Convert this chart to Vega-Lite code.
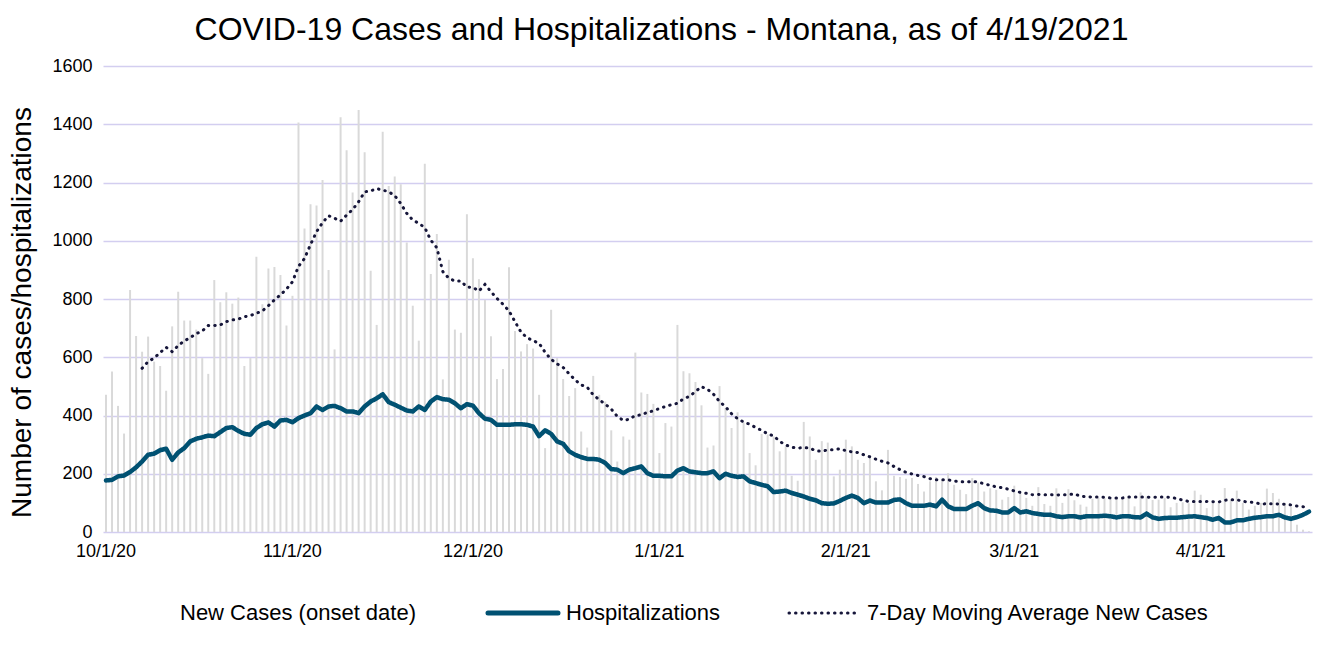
{
  "$schema": "https://vega.github.io/schema/vega-lite/v6.json",
  "autosize": {"type": "none"},
  "width": 1209,
  "height": 466,
  "padding": {"left": 103, "top": 66, "right": 10, "bottom": 124},
  "background": "white",
  "title": {
    "text": "COVID-19 Cases and Hospitalizations - Montana, as of 4/19/2021",
    "font": "Liberation Sans",
    "fontSize": 32,
    "fontWeight": "normal",
    "color": "#000000",
    "anchor": "middle",
    "dx": -46,
    "dy": 32,
    "baseline": "alphabetic",
    "offset": 17
  },
  "data": {
    "values": [
      {"date":"10/1/20","cases":471,"hosp":177,"ma":null},
      {"date":"10/2/20","cases":551,"hosp":179,"ma":null},
      {"date":"10/3/20","cases":433,"hosp":191,"ma":null},
      {"date":"10/4/20","cases":338,"hosp":194,"ma":null},
      {"date":"10/5/20","cases":831,"hosp":206,"ma":null},
      {"date":"10/6/20","cases":673,"hosp":222,"ma":null},
      {"date":"10/7/20","cases":619,"hosp":242,"ma":562},
      {"date":"10/8/20","cases":671,"hosp":265,"ma":585},
      {"date":"10/9/20","cases":585,"hosp":269,"ma":597},
      {"date":"10/10/20","cases":570,"hosp":281,"ma":616},
      {"date":"10/11/20","cases":485,"hosp":286,"ma":634},
      {"date":"10/12/20","cases":706,"hosp":248,"ma":619},
      {"date":"10/13/20","cases":825,"hosp":273,"ma":640},
      {"date":"10/14/20","cases":726,"hosp":288,"ma":656},
      {"date":"10/15/20","cases":726,"hosp":311,"ma":667},
      {"date":"10/16/20","cases":695,"hosp":320,"ma":681},
      {"date":"10/17/20","cases":597,"hosp":325,"ma":690},
      {"date":"10/18/20","cases":543,"hosp":331,"ma":709},
      {"date":"10/19/20","cases":865,"hosp":329,"ma":709},
      {"date":"10/20/20","cases":789,"hosp":343,"ma":711},
      {"date":"10/21/20","cases":823,"hosp":357,"ma":722},
      {"date":"10/22/20","cases":784,"hosp":360,"ma":728},
      {"date":"10/23/20","cases":805,"hosp":347,"ma":731},
      {"date":"10/24/20","cases":570,"hosp":337,"ma":739},
      {"date":"10/25/20","cases":597,"hosp":334,"ma":743},
      {"date":"10/26/20","cases":945,"hosp":357,"ma":751},
      {"date":"10/27/20","cases":782,"hosp":370,"ma":759},
      {"date":"10/28/20","cases":905,"hosp":376,"ma":777},
      {"date":"10/29/20","cases":910,"hosp":362,"ma":797},
      {"date":"10/30/20","cases":882,"hosp":383,"ma":814},
      {"date":"10/31/20","cases":709,"hosp":385,"ma":834},
      {"date":"11/1/20","cases":811,"hosp":377,"ma":859},
      {"date":"11/2/20","cases":1406,"hosp":391,"ma":912},
      {"date":"11/3/20","cases":1042,"hosp":400,"ma":939},
      {"date":"11/4/20","cases":1125,"hosp":408,"ma":987},
      {"date":"11/5/20","cases":1121,"hosp":431,"ma":1031},
      {"date":"11/6/20","cases":1209,"hosp":419,"ma":1062},
      {"date":"11/7/20","cases":900,"hosp":431,"ma":1086},
      {"date":"11/8/20","cases":627,"hosp":433,"ma":1077},
      {"date":"11/9/20","cases":1424,"hosp":425,"ma":1067},
      {"date":"11/10/20","cases":1311,"hosp":414,"ma":1088},
      {"date":"11/11/20","cases":1166,"hosp":414,"ma":1107},
      {"date":"11/12/20","cases":1449,"hosp":408,"ma":1134},
      {"date":"11/13/20","cases":1304,"hosp":431,"ma":1168},
      {"date":"11/14/20","cases":897,"hosp":448,"ma":1171},
      {"date":"11/15/20","cases":711,"hosp":459,"ma":1179},
      {"date":"11/16/20","cases":1374,"hosp":473,"ma":1174},
      {"date":"11/17/20","cases":1188,"hosp":446,"ma":1168},
      {"date":"11/18/20","cases":1221,"hosp":437,"ma":1155},
      {"date":"11/19/20","cases":1194,"hosp":427,"ma":1128},
      {"date":"11/20/20","cases":994,"hosp":417,"ma":1094},
      {"date":"11/21/20","cases":777,"hosp":414,"ma":1071},
      {"date":"11/22/20","cases":657,"hosp":431,"ma":1060},
      {"date":"11/23/20","cases":1264,"hosp":419,"ma":1045},
      {"date":"11/24/20","cases":886,"hosp":448,"ma":1002},
      {"date":"11/25/20","cases":1023,"hosp":463,"ma":976},
      {"date":"11/26/20","cases":524,"hosp":456,"ma":894},
      {"date":"11/27/20","cases":935,"hosp":454,"ma":871},
      {"date":"11/28/20","cases":695,"hosp":442,"ma":862},
      {"date":"11/29/20","cases":684,"hosp":425,"ma":862},
      {"date":"11/30/20","cases":1091,"hosp":439,"ma":841},
      {"date":"12/1/20","cases":940,"hosp":434,"ma":840},
      {"date":"12/2/20","cases":868,"hosp":408,"ma":827},
      {"date":"12/3/20","cases":797,"hosp":389,"ma":850},
      {"date":"12/4/20","cases":672,"hosp":385,"ma":825},
      {"date":"12/5/20","cases":525,"hosp":368,"ma":802},
      {"date":"12/6/20","cases":560,"hosp":368,"ma":782},
      {"date":"12/7/20","cases":909,"hosp":368,"ma":759},
      {"date":"12/8/20","cases":690,"hosp":370,"ma":722},
      {"date":"12/9/20","cases":620,"hosp":370,"ma":686},
      {"date":"12/10/20","cases":645,"hosp":368,"ma":667},
      {"date":"12/11/20","cases":630,"hosp":362,"ma":657},
      {"date":"12/12/20","cases":471,"hosp":329,"ma":648},
      {"date":"12/13/20","cases":288,"hosp":349,"ma":617},
      {"date":"12/14/20","cases":763,"hosp":337,"ma":593},
      {"date":"12/15/20","cases":597,"hosp":311,"ma":577},
      {"date":"12/16/20","cases":525,"hosp":303,"ma":565},
      {"date":"12/17/20","cases":467,"hosp":277,"ma":543},
      {"date":"12/18/20","cases":494,"hosp":265,"ma":522},
      {"date":"12/19/20","cases":345,"hosp":257,"ma":505},
      {"date":"12/20/20","cases":290,"hosp":251,"ma":497},
      {"date":"12/21/20","cases":536,"hosp":251,"ma":471},
      {"date":"12/22/20","cases":471,"hosp":248,"ma":454},
      {"date":"12/23/20","cases":448,"hosp":237,"ma":439},
      {"date":"12/24/20","cases":349,"hosp":216,"ma":422},
      {"date":"12/25/20","cases":242,"hosp":214,"ma":397},
      {"date":"12/26/20","cases":328,"hosp":202,"ma":383},
      {"date":"12/27/20","cases":317,"hosp":214,"ma":387},
      {"date":"12/28/20","cases":616,"hosp":219,"ma":400},
      {"date":"12/29/20","cases":479,"hosp":225,"ma":402},
      {"date":"12/30/20","cases":474,"hosp":202,"ma":411},
      {"date":"12/31/20","cases":440,"hosp":193,"ma":416},
      {"date":"1/1/21","cases":271,"hosp":193,"ma":424},
      {"date":"1/2/21","cases":374,"hosp":191,"ma":431},
      {"date":"1/3/21","cases":362,"hosp":191,"ma":437},
      {"date":"1/4/21","cases":711,"hosp":211,"ma":442},
      {"date":"1/5/21","cases":552,"hosp":219,"ma":457},
      {"date":"1/6/21","cases":545,"hosp":208,"ma":466},
      {"date":"1/7/21","cases":515,"hosp":205,"ma":482},
      {"date":"1/8/21","cases":435,"hosp":202,"ma":499},
      {"date":"1/9/21","cases":290,"hosp":202,"ma":490},
      {"date":"1/10/21","cases":297,"hosp":208,"ma":473},
      {"date":"1/11/21","cases":501,"hosp":185,"ma":448},
      {"date":"1/12/21","cases":425,"hosp":200,"ma":430},
      {"date":"1/13/21","cases":357,"hosp":193,"ma":406},
      {"date":"1/14/21","cases":411,"hosp":189,"ma":389},
      {"date":"1/15/21","cases":376,"hosp":191,"ma":378},
      {"date":"1/16/21","cases":271,"hosp":174,"ma":370},
      {"date":"1/17/21","cases":229,"hosp":168,"ma":359},
      {"date":"1/18/21","cases":337,"hosp":162,"ma":349},
      {"date":"1/19/21","cases":335,"hosp":157,"ma":337},
      {"date":"1/20/21","cases":328,"hosp":137,"ma":330},
      {"date":"1/21/21","cases":277,"hosp":139,"ma":311},
      {"date":"1/22/21","cases":294,"hosp":142,"ma":299},
      {"date":"1/23/21","cases":193,"hosp":134,"ma":291},
      {"date":"1/24/21","cases":176,"hosp":128,"ma":288},
      {"date":"1/25/21","cases":378,"hosp":122,"ma":290},
      {"date":"1/26/21","cases":328,"hosp":114,"ma":288},
      {"date":"1/27/21","cases":248,"hosp":109,"ma":279},
      {"date":"1/28/21","cases":312,"hosp":99,"ma":277},
      {"date":"1/29/21","cases":307,"hosp":97,"ma":282},
      {"date":"1/30/21","cases":191,"hosp":98,"ma":282},
      {"date":"1/31/21","cases":214,"hosp":107,"ma":286},
      {"date":"2/1/21","cases":317,"hosp":117,"ma":279},
      {"date":"2/2/21","cases":294,"hosp":125,"ma":275},
      {"date":"2/3/21","cases":248,"hosp":117,"ma":273},
      {"date":"2/4/21","cases":237,"hosp":99,"ma":265},
      {"date":"2/5/21","cases":259,"hosp":108,"ma":258},
      {"date":"2/6/21","cases":174,"hosp":101,"ma":250},
      {"date":"2/7/21","cases":143,"hosp":101,"ma":243},
      {"date":"2/8/21","cases":282,"hosp":101,"ma":237},
      {"date":"2/9/21","cases":193,"hosp":110,"ma":225},
      {"date":"2/10/21","cases":189,"hosp":112,"ma":214},
      {"date":"2/11/21","cases":183,"hosp":99,"ma":205},
      {"date":"2/12/21","cases":185,"hosp":90,"ma":199},
      {"date":"2/13/21","cases":165,"hosp":90,"ma":194},
      {"date":"2/14/21","cases":139,"hosp":90,"ma":190},
      {"date":"2/15/21","cases":174,"hosp":94,"ma":183},
      {"date":"2/16/21","cases":189,"hosp":88,"ma":179},
      {"date":"2/17/21","cases":179,"hosp":111,"ma":179},
      {"date":"2/18/21","cases":202,"hosp":88,"ma":179},
      {"date":"2/19/21","cases":162,"hosp":79,"ma":175},
      {"date":"2/20/21","cases":145,"hosp":79,"ma":173},
      {"date":"2/21/21","cases":130,"hosp":79,"ma":171},
      {"date":"2/22/21","cases":185,"hosp":90,"ma":174},
      {"date":"2/23/21","cases":170,"hosp":99,"ma":171},
      {"date":"2/24/21","cases":139,"hosp":82,"ma":166},
      {"date":"2/25/21","cases":150,"hosp":74,"ma":160},
      {"date":"2/26/21","cases":145,"hosp":73,"ma":155},
      {"date":"2/27/21","cases":111,"hosp":67,"ma":152},
      {"date":"2/28/21","cases":120,"hosp":67,"ma":147},
      {"date":"3/1/21","cases":159,"hosp":82,"ma":141},
      {"date":"3/2/21","cases":134,"hosp":67,"ma":136},
      {"date":"3/3/21","cases":117,"hosp":71,"ma":133},
      {"date":"3/4/21","cases":90,"hosp":65,"ma":128},
      {"date":"3/5/21","cases":154,"hosp":62,"ma":129},
      {"date":"3/6/21","cases":96,"hosp":59,"ma":128},
      {"date":"3/7/21","cases":90,"hosp":59,"ma":128},
      {"date":"3/8/21","cases":150,"hosp":54,"ma":127},
      {"date":"3/9/21","cases":100,"hosp":51,"ma":128},
      {"date":"3/10/21","cases":147,"hosp":54,"ma":128},
      {"date":"3/11/21","cases":109,"hosp":54,"ma":131},
      {"date":"3/12/21","cases":94,"hosp":50,"ma":123},
      {"date":"3/13/21","cases":87,"hosp":54,"ma":121},
      {"date":"3/14/21","cases":114,"hosp":54,"ma":120},
      {"date":"3/15/21","cases":117,"hosp":54,"ma":120},
      {"date":"3/16/21","cases":117,"hosp":56,"ma":119},
      {"date":"3/17/21","cases":120,"hosp":54,"ma":117},
      {"date":"3/18/21","cases":114,"hosp":50,"ma":117},
      {"date":"3/19/21","cases":120,"hosp":54,"ma":117},
      {"date":"3/20/21","cases":125,"hosp":54,"ma":120},
      {"date":"3/21/21","cases":88,"hosp":51,"ma":120},
      {"date":"3/22/21","cases":136,"hosp":50,"ma":120},
      {"date":"3/23/21","cases":122,"hosp":63,"ma":120},
      {"date":"3/24/21","cases":110,"hosp":50,"ma":119},
      {"date":"3/25/21","cases":111,"hosp":45,"ma":120},
      {"date":"3/26/21","cases":117,"hosp":48,"ma":120},
      {"date":"3/27/21","cases":85,"hosp":49,"ma":119},
      {"date":"3/28/21","cases":100,"hosp":49,"ma":115},
      {"date":"3/29/21","cases":102,"hosp":51,"ma":109},
      {"date":"3/30/21","cases":99,"hosp":53,"ma":105},
      {"date":"3/31/21","cases":142,"hosp":54,"ma":105},
      {"date":"4/1/21","cases":128,"hosp":51,"ma":105},
      {"date":"4/2/21","cases":82,"hosp":48,"ma":105},
      {"date":"4/3/21","cases":99,"hosp":42,"ma":104},
      {"date":"4/4/21","cases":100,"hosp":48,"ma":103},
      {"date":"4/5/21","cases":151,"hosp":33,"ma":109},
      {"date":"4/6/21","cases":110,"hosp":33,"ma":111},
      {"date":"4/7/21","cases":142,"hosp":40,"ma":111},
      {"date":"4/8/21","cases":100,"hosp":40,"ma":105},
      {"date":"4/9/21","cases":77,"hosp":45,"ma":103},
      {"date":"4/10/21","cases":90,"hosp":49,"ma":101},
      {"date":"4/11/21","cases":100,"hosp":51,"ma":96},
      {"date":"4/12/21","cases":149,"hosp":54,"ma":97},
      {"date":"4/13/21","cases":134,"hosp":54,"ma":97},
      {"date":"4/14/21","cases":114,"hosp":59,"ma":96},
      {"date":"4/15/21","cases":100,"hosp":50,"ma":95},
      {"date":"4/16/21","cases":86,"hosp":45,"ma":93},
      {"date":"4/17/21","cases":25,"hosp":51,"ma":89},
      {"date":"4/18/21","cases":8,"hosp":59,"ma":87},
      {"date":"4/19/21","cases":3,"hosp":70,"ma":80}
    ]
  },
  "encoding": {
    "x": {
      "field": "date",
      "type": "ordinal",
      "sort": null,
      "scale": {"paddingInner": 0.67, "paddingOuter": 0.335},
      "axis": {
        "title": null,
        "values": ["10/1/20","11/1/20","12/1/20","1/1/21","2/1/21","3/1/21","4/1/21"],
        "labelAngle": 0,
        "labelFont": "Liberation Sans",
        "labelFontSize": 18,
        "labelColor": "#000000",
        "labelPadding": 10,
        "ticks": false,
        "domain": false,
        "grid": false
      }
    }
  },
  "layer": [
    {
      "mark": {"type": "bar", "color": "#D9D9D9"},
      "encoding": {
        "y": {
          "field": "cases",
          "type": "quantitative",
          "scale": {"domain": [0, 1600]},
          "axis": {
            "title": "Number of cases/hospitalizations",
            "titleFont": "Liberation Sans",
            "titleFontSize": 28,
            "titleFontWeight": "normal",
            "titleColor": "#000000",
            "titleX": -81,
            "titleY": 246,
            "titleAlign": "center",
            "titleBaseline": "middle",
            "values": [0,200,400,600,800,1000,1200,1400,1600],
            "format": "d",
            "labelFont": "Liberation Sans",
            "labelFontSize": 18,
            "labelColor": "#000000",
            "labelPadding": 11,
            "ticks": false,
            "domain": false,
            "grid": true,
            "gridColor": "#D3CEF0",
            "gridWidth": 1.5
          }
        },
        "color": {
          "datum": "New Cases (onset date)",
          "type": "nominal",
          "scale": {
            "domain": ["New Cases (onset date)", "Hospitalizations", "7-Day Moving Average New Cases"],
            "range": ["#D9D9D9", "#005172", "#16163A"]
          },
          "legend": {
            "orient": "none",
            "legendX": 23,
            "legendY": 536,
            "direction": "horizontal",
            "title": null,
            "symbolType": "stroke",
            "symbolSize": 4900,
            "symbolStrokeWidth": 4,
            "labelFont": "Liberation Sans",
            "labelFontSize": 22,
            "labelColor": "#000000",
            "labelOffset": 32,
            "columnPadding": 62,
            "labelLimit": 600,
            "encode": {
              "symbols": {
                "update": {
                  "strokeCap": {"value": "round"},
                  "strokeWidth": {"signal": "datum.value === '7-Day Moving Average New Cases' ? 3 : (datum.value === 'Hospitalizations' ? 5 : 0)"}
                }
              }
            }
          }
        }
      }
    },
    {
      "mark": {"type": "line", "strokeWidth": 4.5, "strokeJoin": "round", "strokeCap": "round"},
      "encoding": {
        "y": {"field": "hosp", "type": "quantitative"},
        "color": {"datum": "Hospitalizations", "type": "nominal"},
        "strokeDash": {
          "datum": "Hospitalizations",
          "type": "nominal",
          "scale": {
            "domain": ["New Cases (onset date)", "Hospitalizations", "7-Day Moving Average New Cases"],
            "range": [[1, 0], [1, 0], [0.5, 6]]
          },
          "legend": {
            "orient": "none",
            "legendX": 23,
            "legendY": 536,
            "direction": "horizontal",
            "title": null,
            "symbolType": "stroke",
            "symbolSize": 4900,
            "symbolStrokeWidth": 4,
            "labelFont": "Liberation Sans",
            "labelFontSize": 22,
            "labelColor": "#000000",
            "labelOffset": 32,
            "columnPadding": 62,
            "labelLimit": 600,
            "encode": {
              "symbols": {
                "update": {
                  "strokeCap": {"value": "round"},
                  "strokeWidth": {"signal": "datum.value === '7-Day Moving Average New Cases' ? 3 : (datum.value === 'Hospitalizations' ? 5 : 0)"}
                }
              }
            }
          }
        }
      }
    },
    {
      "mark": {"type": "line", "strokeWidth": 3, "strokeCap": "round"},
      "encoding": {
        "y": {"field": "ma", "type": "quantitative"},
        "color": {"datum": "7-Day Moving Average New Cases", "type": "nominal"},
        "strokeDash": {"datum": "7-Day Moving Average New Cases", "type": "nominal"}
      }
    }
  ],
  "config": {
    "view": {"stroke": null}
  }
}
